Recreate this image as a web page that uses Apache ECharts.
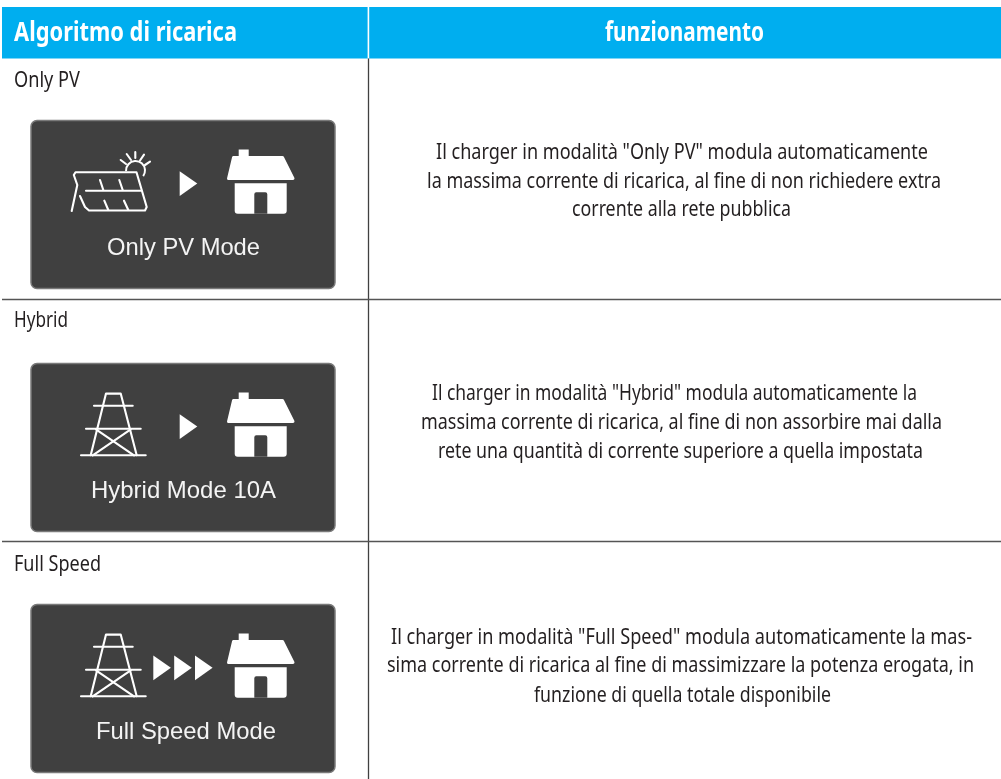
<!DOCTYPE html>
<html><head><meta charset="utf-8">
<style>html,body{margin:0;padding:0;background:#fff}#c{width:1001px;height:779px}</style>
<script src="https://cdn.jsdelivr.net/npm/echarts@6/dist/echarts.min.js"></script>
</head><body><div id="c"></div>
<script>
var headers = ['Algoritmo di ricarica', 'funzionamento'];
var modes = ['Only PV', 'Hybrid', 'Full Speed'];
var panelLabels = ['Only PV Mode', 'Hybrid Mode 10A', 'Full Speed Mode'];
var descriptions = [
  ['Il charger in modalità "Only PV" modula automaticamente',
   'la massima corrente di ricarica, al fine di non richiedere extra',
   'corrente alla rete pubblica'],
  ['Il charger in modalità "Hybrid" modula automaticamente la',
   'massima corrente di ricarica, al fine di non assorbire mai dalla',
   'rete una quantità di corrente superiore a quella impostata'],
  ['Il charger in modalità "Full Speed" modula automaticamente la mas-',
   'sima corrente di ricarica al fine di massimizzare la potenza erogata, in',
   'funzione di quella totale disponibile']
];
var descSpans = [
  [[436,928,153],[427,941,182],[572,791,210]],
  [[432,917,394],[421,942,423],[438,923,452]],
  [[391,972,638],[387,974,666],[534,831,696]]
];
var FONT = '"Noto Sans"';
var ctx = document.createElement('canvas').getContext('2d');
function fit(text, x0, x1, y, size, weight, color, family) {
  var f = (weight || 'normal') + ' ' + size + 'px ' + (family || FONT);
  ctx.font = f;
  return {type:'text', x:x0, y:y, scaleX:(x1-x0)/ctx.measureText(text).width, silent:true,
    style:{text:text, x:0, y:0, font:f, fill:color, align:'left', verticalAlign:'middle'}};
}
var W = '#ffffff', D = '#404040';
function ln(pts, w) {
  return {type:'polyline', shape:{points:pts}, silent:true,
    style:{stroke:W, lineWidth:w||2.1, fill:null, lineJoin:'round', lineCap:'round'}};
}
function tri(x, y) {
  return {type:'polygon', shape:{points:[[x,y],[x+17.6,y+12.2],[x,y+24.8]]}, silent:true, style:{fill:W}};
}
function group(dy, children) { return {type:'group', x:0, y:dy, silent:true, children:children}; }
function house() {
  return [
    {type:'rect', shape:{x:238.7,y:149.5,width:10,height:10}, style:{fill:W}},
    {type:'polygon', shape:{points:[[233.5,157.5],[282.5,157.5],[293,178.5],[228.5,178.5]]},
      style:{fill:W, stroke:W, lineWidth:3, lineJoin:'round'}},
    {type:'rect', shape:{x:234.7,y:183.3,width:52,height:30.5,r:[0,0,3,3]}, style:{fill:W}},
    {type:'rect', shape:{x:254.3,y:192.3,width:13,height:21.5,r:[2,2,0,0]}, style:{fill:D}}
  ];
}
function tower() {
  return [
    ln([[90.7,212.3],[106,150.6],[120.7,150.6],[136.7,212.3]]),
    ln([[94,162.7],[132.7,162.7]]),
    ln([[86,185.7],[140.7,185.7]]),
    ln([[81,212.3],[145.7,212.3]]),
    ln([[96,186.3],[134,212.3]]),
    ln([[130.7,186.3],[92.7,212.3]])
  ];
}
function solar() {
  return [
    ln([[71.7,211],[77.3,185],[73.8,175],[75.5,172.3],[136.5,172.3],[146.7,207],[145,210.5],[89,210.5],[85,207],[80,196]]),
    ln([[86,190.7],[140.7,190.7]]),
    ln([[100,180],[103.3,190]]), ln([[119.3,180],[122.7,190]]),
    ln([[104.3,200.7],[108.3,210]]), ln([[124,200.7],[128.3,210]]),
    {type:'arc', shape:{cx:135.5,cy:170.5,r:9.5,startAngle:Math.PI*0.98,endAngle:Math.PI*2.2,clockwise:true},
      style:{stroke:W, lineWidth:2, fill:null}},
    ln([[120.7,160],[126,164]]), ln([[126.7,154],[131,160]]), ln([[135.3,152],[135.3,158]]),
    ln([[144,154.7],[140,160.5]]), ln([[150,161.7],[145,165]])
  ];
}
var panelTop = [120.5, 363.5, 604.5];
var els = [];
// header band
els.push({type:'rect', shape:{x:2,y:7,width:999,height:51.5}, style:{fill:'#00aeef'}, silent:true});
els.push({type:'rect', shape:{x:367.6,y:7,width:1.6,height:51.5}, style:{fill:'#ffffff'}, silent:true});
els.push(fit(headers[0], 14, 237, 34, 26, 'bold', W));
els.push(fit(headers[1], 605, 764, 34, 26, 'bold', W));
// grid rules
els.push({type:'line', shape:{x1:368.5,y1:58.5,x2:368.5,y2:779}, style:{stroke:'#404040',lineWidth:1.3}, silent:true});
[299.5, 541.5].forEach(function(y){
  els.push({type:'line', shape:{x1:2,y1:y,x2:1001,y2:y}, style:{stroke:'#555555',lineWidth:1.3}, silent:true});
});
// rows
var modeSpans = [[14,80,81],[14,68,321],[14,101,565]];
var labelSpans = [[107,260,248],[91,276,491],[96,276,732]];
modes.forEach(function(m,i){
  var s = modeSpans[i];
  els.push(fit(m, s[0], s[1], s[2], 21, 'normal', '#231f20'));
  descriptions[i].forEach(function(t,j){
    var d = descSpans[i][j];
    els.push(fit(t, d[0], d[1], d[2], 21, 'normal', '#231f20'));
  });
  els.push({type:'rect', silent:true, shape:{x:31,y:panelTop[i],width:304,height:168,r:6},
    style:{fill:D, stroke:'#7a7a7a', lineWidth:1.5}});
  var l = labelSpans[i];
  els.push(fit(panelLabels[i], l[0], l[1], l[2], 24, 'normal', '#f4f4f4', '"Liberation Sans"'));
});
// icons
els.push(group(0, solar().concat(house()).concat([tri(179.7,171.3)])));
els.push(group(243, tower().concat(house()).concat([tri(179.7,171.3)])));
els.push(group(484, tower().concat(house()).concat([tri(153.3,171.5),tri(174.2,171.5),tri(195,171.5)])));

var chart = echarts.init(document.getElementById('c'), null, {renderer:'canvas'});
chart.setOption({animation:false, backgroundColor:'#ffffff', graphic:{elements:els}});
</script></body></html>
